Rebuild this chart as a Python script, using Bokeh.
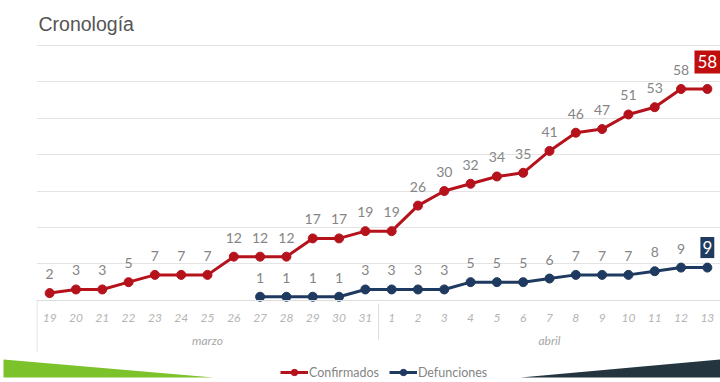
from bokeh.plotting import figure
from bokeh.layouts import column, row
from bokeh.models import (FactorRange, Range1d, ColumnDataSource, FixedTicker,
                          Legend, LegendItem)
from bokeh.core.properties import value
from bokeh.embed import file_html
from bokeh.resources import INLINE

# ---- data ----
dias_marzo = ["19", "20", "21", "22", "23", "24", "25", "26", "27", "28", "29", "30", "31"]
dias_abril = ["1", "2", "3", "4", "5", "6", "7", "8", "9", "10", "11", "12", "13"]
confirmados = [2, 3, 3, 5, 7, 7, 7, 12, 12, 12, 17, 17, 19,
               19, 26, 30, 32, 34, 35, 41, 46, 47, 51, 53, 58, 58]
defunciones_inicio = ("marzo", "27")
defunciones = [1, 1, 1, 1, 3, 3, 3, 3, 5, 5, 5, 6, 7, 7, 7, 8, 9, 9]
grid_ticks = [10, 20, 30, 40, 50, 60, 70]

RED = "#b5121b"
RED_BOX = "#c00d0d"
NAVY = "#1f3a60"
LABEL_GRAY = "#858585"

factors = [("marzo", d) for d in dias_marzo] + [("abril", d) for d in dias_abril]
start = factors.index(defunciones_inicio)
def_factors = factors[start:start + len(defunciones)]

src_c = ColumnDataSource(dict(x=factors, y=confirmados))
src_d = ColumnDataSource(dict(x=def_factors, y=defunciones))
src_c_lab = ColumnDataSource(dict(x=factors[:-1], y=confirmados[:-1], t=[str(v) for v in confirmados[:-1]]))
src_d_lab = ColumnDataSource(dict(x=def_factors[:-1], y=defunciones[:-1], t=[str(v) for v in defunciones[:-1]]))
src_c_last = ColumnDataSource(dict(x=factors[-1:], y=confirmados[-1:], t=[str(confirmados[-1])]))
src_d_last = ColumnDataSource(dict(x=def_factors[-1:], y=defunciones[-1:], t=[str(defunciones[-1])]))

# ---- main chart ----
p = figure(width=720, height=358, output_backend="svg", toolbar_location=None,
           x_range=FactorRange(*factors, group_padding=0, range_padding=0),
           y_range=Range1d(-15.94, 70.2),
           min_border_left=36, min_border_right=0, min_border_top=42, min_border_bottom=0)

p.title.text = "Cronología"
p.title.text_font = "Liberation Sans"
p.title.text_font_size = "19.5px"
p.title.text_font_style = "normal"
p.title.text_color = "#555555"
p.title.offset = 2
p.title.standoff = 20

p.outline_line_color = None
p.yaxis.visible = False
p.xgrid.visible = False
p.ygrid.ticker = FixedTicker(ticks=grid_ticks)
p.ygrid.grid_line_color = "#e3e3e3"
p.ygrid.grid_line_width = 1

ax = p.xaxis[0]
ax.fixed_location = 0
ax.axis_line_color = "#dddddd"
ax.major_tick_line_color = None
ax.minor_tick_line_color = None
ax.major_label_text_font = "Lato"
ax.major_label_text_font_style = "italic"
ax.major_label_text_font_size = "12px"
ax.major_label_text_color = "#b4b4b4"
ax.major_label_standoff = 8
ax.group_text_font = "Lato"
ax.group_text_font_style = "italic"
ax.group_text_font_size = "12px"
ax.group_text_color = "#a8a8a8"
ax.group_label_orientation = "horizontal"
ax.separator_line_color = "#dddddd"
ax.separator_line_width = 1

# left edge line of the date axis area (decorative)
p.segment(x0=[(factors[0][0], factors[0][1], -0.48)], y0=[0],
          x1=[(factors[0][0], factors[0][1], -0.48)], y1=[-14.3],
          line_color="#dddddd", line_width=1)

p.line("x", "y", source=src_c, line_color=RED, line_width=3)
p.scatter("x", "y", source=src_c, size=9, fill_color=RED, line_color=RED)
p.line("x", "y", source=src_d, line_color=NAVY, line_width=3)
p.scatter("x", "y", source=src_d, size=9, fill_color=NAVY, line_color=NAVY)

for s in (src_c_lab, src_d_lab):
    p.text("x", "y", "t", source=s, text_align="center", text_baseline="middle",
           y_offset=-19, text_font=value("Lato"), text_font_size="14px", text_color=LABEL_GRAY)

p.text("x", "y", "t", source=src_c_last, text_align="center", text_baseline="middle",
       y_offset=-27, text_font=value("Lato"), text_font_size="17px", text_color="white",
       background_fill_color=RED_BOX, padding=(3, 5))
p.text("x", "y", "t", source=src_d_last, text_align="center", text_baseline="middle",
       y_offset=-20, text_font=value("Lato"), text_font_size="17px", text_color="white",
       background_fill_color=NAVY, padding=(2, 4))

# ---- bottom strip: legend + decorative wedges ----
p2 = figure(width=720, height=24, output_backend="svg", toolbar_location=None,
            x_range=Range1d(0, 720), y_range=Range1d(24, 0), min_border=0)
p2.axis.visible = False
p2.grid.visible = False
p2.outline_line_color = None

p2.patch(x=[3, 213, 3], y=[1, 19, 19], fill_color="#7cc22a", line_color=None)
p2.patch(x=[520, 720, 720], y=[19, 1, 19], fill_color="#253540", line_color=None)

# legend-only renderers (their single point lies outside the visible strip)
leg_c = ColumnDataSource(dict(x=[-50], y=[-50]))
leg_d = ColumnDataSource(dict(x=[-50], y=[-50]))
lc = p2.line("x", "y", source=leg_c, line_color=RED, line_width=3)
sc = p2.scatter("x", "y", source=leg_c, size=8, fill_color=RED, line_color=RED)
ld = p2.line("x", "y", source=leg_d, line_color=NAVY, line_width=3)
sd = p2.scatter("x", "y", source=leg_d, size=8, fill_color=NAVY, line_color=NAVY)

legend = Legend(items=[LegendItem(label="Confirmados", renderers=[lc, sc]),
                       LegendItem(label="Defunciones", renderers=[ld, sd])],
                orientation="horizontal", location=(280, 2),
                padding=0, margin=0, spacing=10, glyph_width=28, glyph_height=16,
                label_standoff=1, label_text_font="Lato", label_text_font_size="12.5px",
                label_height=16, label_text_color=LABEL_GRAY,
                border_line_color=None, background_fill_alpha=0)
p2.add_layout(legend, "center")

layout = column(p, row(p2, spacing=0), spacing=0)
open("out.html", "w").write(file_html(layout, INLINE))
